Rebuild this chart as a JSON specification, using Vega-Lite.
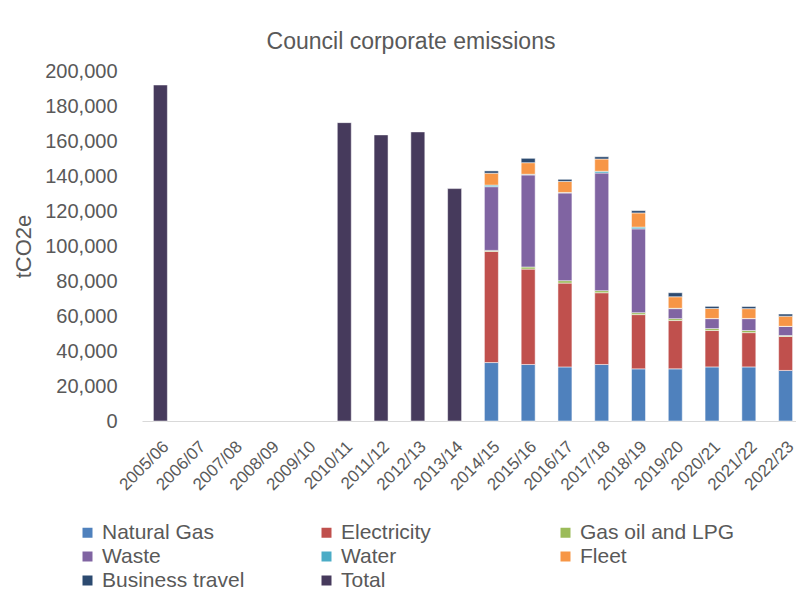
{
  "$schema": "https://vega.github.io/schema/vega-lite/v6.json",
  "width": 662,
  "height": 350,
  "autosize": {"type": "none"},
  "padding": {"left": 142, "top": 71, "right": 0, "bottom": 182},
  "background": "#ffffff",
  "title": {
    "text": "Council corporate emissions",
    "font": "Liberation Sans",
    "fontSize": 23,
    "fontWeight": "normal",
    "color": "#595959",
    "anchor": "middle",
    "frame": "group",
    "dx": -62,
    "offset": 7
  },
  "data": {
    "values": [
      {"year": "2005/06", "source": "Total", "value": 192000},
      {"year": "2010/11", "source": "Total", "value": 170500},
      {"year": "2011/12", "source": "Total", "value": 163500},
      {"year": "2012/13", "source": "Total", "value": 165200},
      {"year": "2013/14", "source": "Total", "value": 132800},

      {"year": "2014/15", "source": "Natural Gas", "value": 33400},
      {"year": "2014/15", "source": "Electricity", "value": 63500},
      {"year": "2014/15", "source": "Gas oil and LPG", "value": 600},
      {"year": "2014/15", "source": "Waste", "value": 36400},
      {"year": "2014/15", "source": "Water", "value": 900},
      {"year": "2014/15", "source": "Fleet", "value": 6800},
      {"year": "2014/15", "source": "Business travel", "value": 1300},

      {"year": "2015/16", "source": "Natural Gas", "value": 32300},
      {"year": "2015/16", "source": "Electricity", "value": 54500},
      {"year": "2015/16", "source": "Gas oil and LPG", "value": 1200},
      {"year": "2015/16", "source": "Waste", "value": 52600},
      {"year": "2015/16", "source": "Water", "value": 400},
      {"year": "2015/16", "source": "Fleet", "value": 6600},
      {"year": "2015/16", "source": "Business travel", "value": 2500},

      {"year": "2016/17", "source": "Natural Gas", "value": 30900},
      {"year": "2016/17", "source": "Electricity", "value": 47900},
      {"year": "2016/17", "source": "Gas oil and LPG", "value": 1400},
      {"year": "2016/17", "source": "Waste", "value": 50100},
      {"year": "2016/17", "source": "Water", "value": 300},
      {"year": "2016/17", "source": "Fleet", "value": 6300},
      {"year": "2016/17", "source": "Business travel", "value": 1200},

      {"year": "2017/18", "source": "Natural Gas", "value": 32300},
      {"year": "2017/18", "source": "Electricity", "value": 41000},
      {"year": "2017/18", "source": "Gas oil and LPG", "value": 1200},
      {"year": "2017/18", "source": "Waste", "value": 67200},
      {"year": "2017/18", "source": "Water", "value": 1000},
      {"year": "2017/18", "source": "Fleet", "value": 7000},
      {"year": "2017/18", "source": "Business travel", "value": 1300},

      {"year": "2018/19", "source": "Natural Gas", "value": 29800},
      {"year": "2018/19", "source": "Electricity", "value": 31000},
      {"year": "2018/19", "source": "Gas oil and LPG", "value": 1100},
      {"year": "2018/19", "source": "Waste", "value": 47900},
      {"year": "2018/19", "source": "Water", "value": 1000},
      {"year": "2018/19", "source": "Fleet", "value": 8100},
      {"year": "2018/19", "source": "Business travel", "value": 1300},

      {"year": "2019/20", "source": "Natural Gas", "value": 29800},
      {"year": "2019/20", "source": "Electricity", "value": 27600},
      {"year": "2019/20", "source": "Gas oil and LPG", "value": 1100},
      {"year": "2019/20", "source": "Waste", "value": 5700},
      {"year": "2019/20", "source": "Water", "value": 200},
      {"year": "2019/20", "source": "Fleet", "value": 6600},
      {"year": "2019/20", "source": "Business travel", "value": 2300},

      {"year": "2020/21", "source": "Natural Gas", "value": 30900},
      {"year": "2020/21", "source": "Electricity", "value": 20800},
      {"year": "2020/21", "source": "Gas oil and LPG", "value": 1100},
      {"year": "2020/21", "source": "Waste", "value": 5700},
      {"year": "2020/21", "source": "Water", "value": 100},
      {"year": "2020/21", "source": "Fleet", "value": 5700},
      {"year": "2020/21", "source": "Business travel", "value": 1200},

      {"year": "2021/22", "source": "Natural Gas", "value": 30900},
      {"year": "2021/22", "source": "Electricity", "value": 19600},
      {"year": "2021/22", "source": "Gas oil and LPG", "value": 1200},
      {"year": "2021/22", "source": "Waste", "value": 6800},
      {"year": "2021/22", "source": "Water", "value": 100},
      {"year": "2021/22", "source": "Fleet", "value": 5600},
      {"year": "2021/22", "source": "Business travel", "value": 1200},

      {"year": "2022/23", "source": "Natural Gas", "value": 28900},
      {"year": "2022/23", "source": "Electricity", "value": 19400},
      {"year": "2022/23", "source": "Gas oil and LPG", "value": 500},
      {"year": "2022/23", "source": "Waste", "value": 5200},
      {"year": "2022/23", "source": "Water", "value": 100},
      {"year": "2022/23", "source": "Fleet", "value": 5800},
      {"year": "2022/23", "source": "Business travel", "value": 1200}
    ]
  },
  "transform": [
    {"calculate": "indexof(['Natural Gas', 'Electricity', 'Gas oil and LPG', 'Waste', 'Water', 'Fleet', 'Business travel', 'Total'], datum.source)", "as": "stackRank"}
  ],
  "mark": {"type": "bar", "stroke": "#ffffff", "strokeWidth": 0.5},
  "encoding": {
    "x": {
      "field": "year",
      "type": "ordinal",
      "scale": {
        "domain": ["2005/06", "2006/07", "2007/08", "2008/09", "2009/10", "2010/11", "2011/12", "2012/13", "2013/14", "2014/15", "2015/16", "2016/17", "2017/18", "2018/19", "2019/20", "2020/21", "2021/22", "2022/23"],
        "paddingInner": 0.62,
        "paddingOuter": 0.31
      },
      "axis": {
        "title": null,
        "labelAngle": -45,
        "labelFont": "Liberation Sans",
        "labelFontSize": 17,
        "labelColor": "#595959",
        "labelPadding": 17,
        "ticks": false,
        "domainColor": "#d9d9d9",
        "domainWidth": 1,
        "grid": false
      }
    },
    "y": {
      "field": "value",
      "type": "quantitative",
      "aggregate": "sum",
      "stack": "zero",
      "scale": {"domain": [0, 200000], "nice": false},
      "axis": {
        "title": "tCO2e",
        "titleFont": "Liberation Sans",
        "titleFontSize": 22,
        "titleFontWeight": "normal",
        "titleColor": "#595959",
        "titlePadding": 9,
        "values": [0, 20000, 40000, 60000, 80000, 100000, 120000, 140000, 160000, 180000, 200000],
        "format": ",d",
        "labelFont": "Liberation Sans",
        "labelFontSize": 20,
        "labelColor": "#595959",
        "labelPadding": 25,
        "ticks": false,
        "domain": false,
        "grid": false
      }
    },
    "color": {
      "field": "source",
      "type": "nominal",
      "sort": ["Natural Gas", "Electricity", "Gas oil and LPG", "Waste", "Water", "Fleet", "Business travel", "Total"],
      "scale": {
        "domain": ["Natural Gas", "Electricity", "Gas oil and LPG", "Waste", "Water", "Fleet", "Business travel", "Total"],
        "range": ["#4f81bd", "#c0504d", "#9bbb59", "#8064a2", "#4bacc6", "#f79646", "#2c4a70", "#463a5c"]
      },
      "legend": {
        "title": null,
        "orient": "none",
        "legendX": -65,
        "legendY": 451,
        "direction": "horizontal",
        "columns": 3,
        "gridAlign": "all",
        "columnPadding": 59,
        "rowPadding": 2,
        "symbolType": "square",
        "symbolSize": 100,
        "symbolStrokeWidth": 0,
        "labelFont": "Liberation Sans",
        "labelFontSize": 21,
        "labelColor": "#595959",
        "labelOffset": 4,
        "labelLimit": 300
      }
    },
    "order": {"field": "stackRank", "type": "quantitative", "sort": "ascending"}
  },
  "config": {"view": {"stroke": null}}
}
